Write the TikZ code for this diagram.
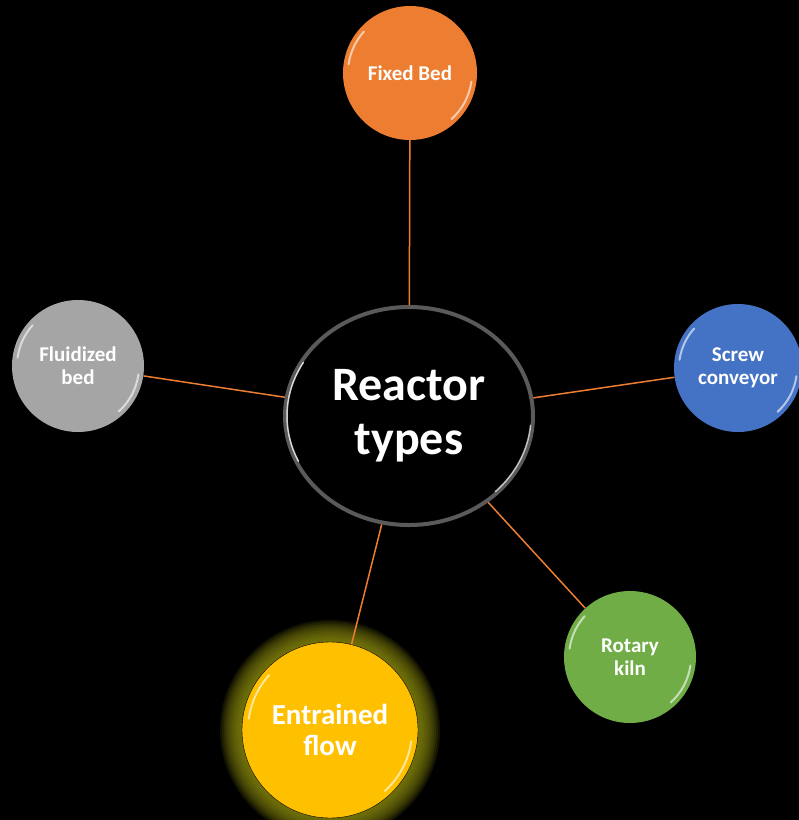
\documentclass[tikz,border=0pt]{standalone}
\usepackage{fontspec}
\setmainfont{Carlito}
\usetikzlibrary{calc, shapes.geometric}
\definecolor{corange}{HTML}{ED7D31}
\definecolor{cgray}{HTML}{A5A5A5}
\definecolor{cblue}{HTML}{4472C4}
\definecolor{cgreen}{HTML}{70AD47}
\definecolor{cgold}{HTML}{FFC000}
\definecolor{cglow}{HTML}{8A8A10}
\definecolor{cring}{HTML}{5A5A5A}

\begin{document}
\begin{tikzpicture}[x=1pt, y=-1pt]
    \fill[black] (0,0) rectangle (799,820);
    \useasboundingbox (0,0) rectangle (799,820);
    \foreach \k in {0,...,11} \fill[cglow, opacity=.14] (330,730) circle ({88+2*\k pt});
    \begin{scope}[every node/.style={circle, draw=none, text=white, align=center, inner sep=0pt, font=\fontsize{21}{23}\selectfont\bfseries}]
        \node (fb) [fill=corange, minimum size=134pt] at (410,73) {Fixed Bed};
        \node (fl) [fill=cgray, minimum size=132pt] at (78,366) {Fluidized\\bed};
        \node (sc) [fill=cblue, minimum size=128pt] at (738,368) {Screw\\conveyor};
        \node (rk) [fill=cgreen, minimum size=132pt] at (630,657) {Rotary\\kiln};
        \node (ef) [fill=cgold, draw=black, thin, minimum size=176pt, font=\fontsize{29}{31}\selectfont\bfseries] at (330,730) {Entrained\\flow};
    \end{scope}
    \node (rt) [ellipse, fill=black, draw=cring, line width=4pt, minimum width=248pt, minimum height=218pt, text=white, align=center, inner sep=0pt, font=\fontsize{48}{54}\selectfont\bfseries] at (409,416) {Reactor\\types};
    \foreach \n in {fb,fl,sc,rk,ef} \draw[corange, line width=1.5pt] (rt) -- (\n);
    \foreach \n/\r in {fb/62,fl/61,sc/59,rk/61,ef/82} {
        \draw[white, opacity=.6, line width=2pt, line cap=round] (\n.center) ++(138:\r pt) arc (138:172:\r pt);
        \draw[white, opacity=.6, line width=2pt, line cap=round] (\n.center) ++(-48:\r pt) arc (-48:-8:\r pt);
    }
    \draw[white, opacity=.8, line width=1.5pt, line cap=round] (rt.center) ++(150:{122pt and 107pt}) arc[start angle=150, end angle=205, x radius=122pt, y radius=107pt];
    \draw[white, opacity=.7, line width=1.5pt, line cap=round] (rt.center) ++(-45:{122pt and 107pt}) arc[start angle=-45, end angle=-5, x radius=122pt, y radius=107pt];
\end{tikzpicture}
\end{document}
